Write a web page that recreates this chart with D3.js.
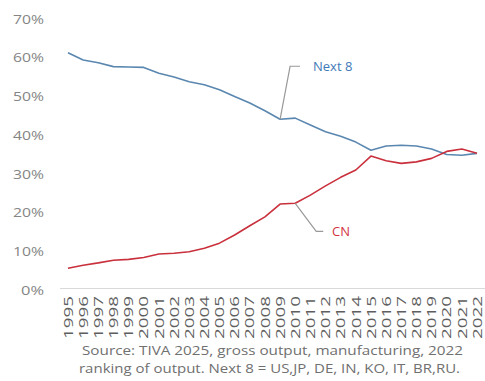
<!DOCTYPE html>
<html>
<head>
<meta charset="utf-8">
<script src="https://cdn.jsdelivr.net/npm/d3@7"></script>
<style>
  html, body { margin: 0; padding: 0; background: #fff; }
  svg { display: block; }
  text { font-family: "Open Sans", "Liberation Sans", sans-serif; }
</style>
</head>
<body>
<svg id="chart" width="485" height="381"></svg>
<script>
const years = [1995,1996,1997,1998,1999,2000,2001,2002,2003,2004,2005,2006,2007,2008,2009,2010,2011,2012,2013,2014,2015,2016,2017,2018,2019,2020,2021,2022];
const next8 = [61.3,59.4,58.7,57.7,57.6,57.5,56.0,55.0,53.8,53.0,51.7,50.0,48.3,46.3,44.1,44.4,42.6,40.9,39.7,38.2,36.1,37.2,37.4,37.2,36.4,35.0,34.8,35.3];
const cn    = [5.6,6.4,7.0,7.7,7.9,8.4,9.3,9.5,9.9,10.8,12.1,14.2,16.6,18.9,22.2,22.4,24.5,26.9,29.1,31.0,34.6,33.4,32.7,33.1,34.0,35.8,36.4,35.3];
const yTicks = [0,10,20,30,40,50,60,70];
const sourceLines = ["Source: TIVA 2025, gross output, manufacturing, 2022", "ranking of output. Next 8 = US,JP, DE, IN, KO, IT, BR,RU."];

const svg = d3.select("#chart");
const x = d3.scalePoint().domain(years).range([68, 477]);
const y = d3.scaleLinear().domain([0, 70]).range([290, 19]);

// y tick labels
const yAxis = d3.axisLeft(y).tickValues(yTicks).tickFormat(d => d + "%").tickSize(0).tickPadding(0);
const gy = svg.append("g").attr("transform", "translate(44,0)").call(yAxis);
gy.select(".domain").remove();
gy.selectAll("text").attr("fill", "#858585").style("font-size", "13px")
  .attr("textLength", d => d === 0 ? 23 : 31).attr("lengthAdjust", "spacingAndGlyphs");

// baseline
svg.append("line").attr("x1", 60).attr("x2", 485).attr("y1", y(0) - 1.5).attr("y2", y(0) - 1.5)
  .attr("stroke", "#d9d9d9").attr("stroke-width", 1);

// x tick labels (rotated)
const xAxis = d3.axisBottom(x).tickSize(0).tickPadding(0).tickFormat(d => String(d));
const gx = svg.append("g").attr("transform", "translate(0,296)").call(xAxis);
gx.select(".domain").remove();
gx.selectAll("text")
  .attr("transform", "rotate(-90)")
  .attr("text-anchor", "end")
  .attr("x", 0).attr("y", 0).attr("dy", "0.35em")
  .attr("fill", "#5e5e5e").style("font-size", "12px")
  .attr("textLength", 43).attr("lengthAdjust", "spacingAndGlyphs");

// lines
const line = d3.line().x((d, i) => x(years[i])).y(d => y(d));
svg.append("path").datum(next8).attr("d", line).attr("fill", "none")
  .attr("stroke", "#5a87b0").attr("stroke-width", 1.6).attr("stroke-linejoin", "round");
svg.append("path").datum(cn).attr("d", line).attr("fill", "none")
  .attr("stroke", "#c9303c").attr("stroke-width", 1.6).attr("stroke-linejoin", "round");

// leader lines and labels
const iN = years.indexOf(2009), iC = years.indexOf(2010);
const nx = x(years[iN]), ny = y(next8[iN]);
svg.append("path").attr("d", `M${nx},${ny} L${nx + 10},${ny - 53} L${nx + 20},${ny - 53}`)
  .attr("fill", "none").attr("stroke", "#999").attr("stroke-width", 1.2);
svg.append("text").attr("x", 313).attr("y", ny - 53).attr("dy", "0.35em")
  .attr("fill", "#3f7ab8").style("font-size", "13px").text("Next 8");

const cx = x(years[iC]), cy = y(cn[iC]);
svg.append("path").attr("d", `M${cx},${cy} L${cx + 21},${cy + 28} L${cx + 28},${cy + 28}`)
  .attr("fill", "none").attr("stroke", "#999").attr("stroke-width", 1.2);
svg.append("text").attr("x", 332).attr("y", cy + 28).attr("dy", "0.35em")
  .attr("fill", "#d3343f").style("font-size", "13px").text("CN");

// source
svg.selectAll("text.src").data(sourceLines).enter().append("text").attr("class", "src")
  .attr("x", (d, i) => i === 0 ? 82 : 79).attr("y", (d, i) => 351 + i * 18).attr("dy", "0.35em")
  .attr("fill", "#707070").style("font-size", "12.5px")
  .attr("textLength", 381)
  .attr("lengthAdjust", "spacingAndGlyphs")
  .text(d => d);
</script>
</body>
</html>
